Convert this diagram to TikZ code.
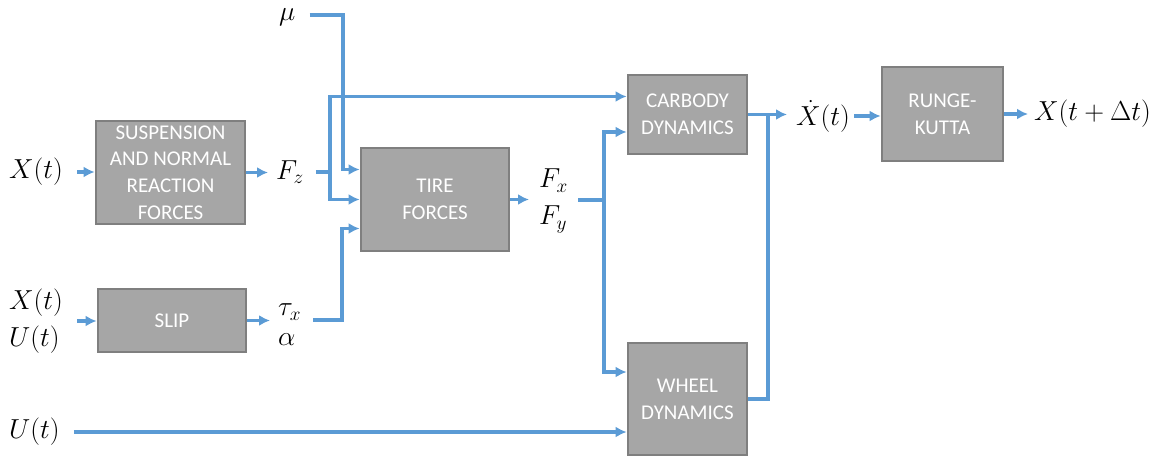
\documentclass[tikz,border=0pt]{standalone}
\usepackage{fix-cm}
\usepackage{amsmath}
\usepackage{fontspec}
\setsansfont{Carlito}
\usetikzlibrary{arrows.meta,positioning}
\definecolor{flowblue}{HTML}{5B9BD5}
\definecolor{boxgray}{HTML}{A6A6A6}
\definecolor{boxedge}{HTML}{7F7F7F}

\begin{document}
\begin{tikzpicture}[x=1pt,y=-1pt,
block/.style={rectangle,draw=boxedge,fill=boxgray,line width=2.8pt,text=white,
font=\sffamily\fontsize{21}{26.7}\selectfont,align=center,inner sep=0pt},
var/.style={inner sep=0pt,anchor=west,align=left,font=\fontsize{27.5}{37}\selectfont},
flow/.style={draw=flowblue,line width=3.6pt,-{Latex[length=11pt,width=11pt]}},
wire/.style={draw=flowblue,line width=3.6pt}]
    \useasboundingbox (0,0) rectangle (1166,457);
    % blocks
    \node[block,minimum width=149pt,minimum height=103pt] (susp) at (170.5,172.5) {SUSPENSION\\AND NORMAL\\REACTION\\FORCES};
    \node[block,minimum width=148pt,minimum height=63pt] (slip) at (172,320.5) {SLIP};
    \node[block,minimum width=148pt,minimum height=103pt] (tire) at (435,199.5) {TIRE\\FORCES};
    \node[block,minimum width=119pt,minimum height=79pt] (carbody) at (687.5,114.5) {CARBODY\\DYNAMICS};
    \node[block,minimum width=119pt,minimum height=112pt] (wheel) at (687.5,399) {WHEEL\\DYNAMICS};
    \node[block,minimum width=121pt,minimum height=94pt] (rk) at (942.5,114) {RUNGE-\\KUTTA};
    % signals
    \node[var] (xin) at (9,172) {$X(t)$};
    \node[var] (xu) at (9,321) {$X(t)$\\$U(t)$};
    \node[var] (uin) at (9,432) {$U(t)$};
    \node[var] (fz) at (276,172) {$F_z$};
    \node[var] (mu) at (279,17) {$\mu$};
    \node[var,font=\fontsize{27.5}{30}\selectfont] (ta) at (278,325) {$\tau_x$\\$\alpha$};
    \node[var] (fxy) at (539,201) {$F_x$\\$F_y$};
    \node[var] (xdot) at (796,116) {$\dot X(t)$};
    \node[var] (xnext) at (1034,114) {$X(t+\Delta t)$};
    \coordinate (fzsplit) at (330,172);
    \coordinate (mucorner) at (343,15);
    \coordinate (tacorner) at (342,320);
    \coordinate (fxysplit) at (604,200);
    \coordinate (xdotjoin) at (768,114.5);
    % straight arrows
    \draw[flow,shorten <=14pt] (xin.east) -- (xin.east -| susp.west);
    \draw[flow,shorten <=14pt] (xu.east) -- (xu.east -| slip.west);
    \draw[flow,shorten <=14pt] (uin.east) -- (uin.east -| wheel.west);
    \draw[flow,shorten >=8pt] (susp.east) -- (susp.east -| fz.west);
    \draw[flow,shorten >=8pt] (slip.east) -- (slip.east -| ta.west);
    \draw[flow,shorten >=10pt] (tire.east) -- (tire.east -| fxy.west);
    \draw[flow,shorten >=9pt] (carbody.east) -- (carbody.east -| xdot.west);
    \draw[flow,shorten <=4pt] (xdot.east) -- (xdot.east -| rk.west);
    \draw[flow,shorten >=6pt] (rk.east) -- (rk.east -| xnext.west);
    % branching
    \draw[wire,shorten <=12pt] (fz.east) -- (fzsplit);
    \draw[flow] (fzsplit) |- (tire.west);
    \draw[flow] (fzsplit) |- ([yshift=18pt]carbody.west);
    \draw[flow,shorten <=14pt] (mu.east |- mucorner) -- (mucorner) |- ([yshift=30pt]tire.west);
    \draw[flow,shorten <=12pt] (ta.east |- tacorner) -- (tacorner) |- ([yshift=-29pt]tire.west);
    \draw[wire,shorten <=10pt] (fxy.east |- fxysplit) -- (fxysplit);
    \draw[flow] (fxysplit) |- ([yshift=-17.5pt]carbody.west);
    \draw[flow] (fxysplit) |- ([yshift=27pt]wheel.west);
    \draw[wire] (wheel.east) -| (xdotjoin);
\end{tikzpicture}
\end{document}
